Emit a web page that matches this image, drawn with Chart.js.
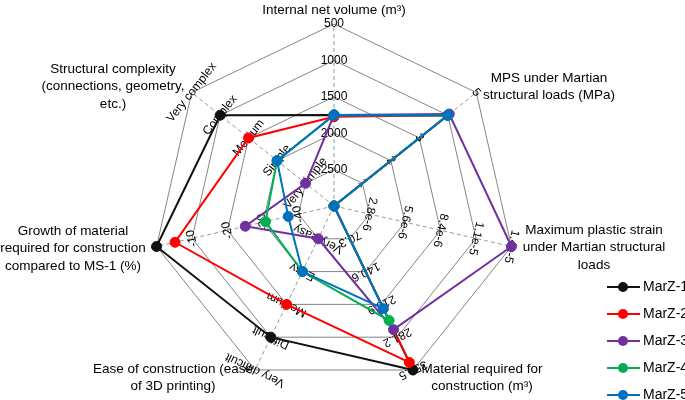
<!DOCTYPE html>
<html>
<head>
<meta charset="utf-8">
<script src="https://cdn.jsdelivr.net/npm/chart.js@4"></script>
<style>
  body { margin: 0; background: #fff; }
</style>
</head>
<body>
<canvas id="radar" width="685" height="400"></canvas>
<script>
// axis titles, clockwise from the top
const axisTitles = [
    ["Internal net volume (m³)"],
    ["MPS under Martian", "structural loads (MPa)"],
    ["Maximum plastic strain", "under Martian structural", "loads"],
    ["Material required for", "construction (m³)"],
    ["Ease of construction (ease", "of 3D printing)"],
    ["Growth of material", "required for construction", "compared to MS-1 (%)"],
    ["Structural complexity", "(connections, geometry,", "etc.)"]
];
// where each title block is centred
const titleX = [334, 549, 594, 482, 173, 73, 113];
const titleY = [10, 78, 230, 369, 369, 231, 69];

// tick labels of each axis, ring 1 to ring 5
const volumeTicks = ["2500", "2000", "1500", "1000", "500"];
const mpsTicks = ["1", "2", "3", "4", "5"];
const strainTicks = ["2.8e-6", "5.6e-6", "8.4e-6", "1.1e-5", "1.4e-5"];
const materialTicks = ["70.3", "140.6", "210.9", "281.2", "351.5"];
const easeTicks = ["Very easy", "Easy", "Medium", "Difficult", "Very difficult"];
const growthTicks = ["-40", "-30", "-20", "-10", "0"];
const complexityTicks = ["Very simple", "Simple", "Medium", "Complex", "Very complex"];
const axisTicks = [volumeTicks, mpsTicks, strainTicks, materialTicks, easeTicks, growthTicks, complexityTicks];

// position of each design on every axis, in ring units (0 = centre, 5 = outer ring)
const seriesNames = ["MarZ-1", "MarZ-2", "MarZ-3", "MarZ-4", "MarZ-5"];
const marz1 = [2.5, 4, 0, 5, 4, 5, 4];
const marz2 = [2.45, 4, 0, 4.77, 3, 4.48, 3];
const marz3 = [2.5, 4.05, 5, 3.77, 1, 2.5, 1];
const marz4 = [2.5, 4, 0, 3.49, 2, 1.93, 2];
const marz5 = [2.5, 4, 0, 3.13, 2, 1.29, 2];
const seriesColors = ["#111111", "#ff0000", "#7030a0", "#00b050", "#0070c0"];

const allSeries = [marz1, marz2, marz3, marz4, marz5];

const axisText = {
    id: "axisText",
    beforeDatasetsDraw(chart) {
        const r = chart.scales.r;
        const ctx = chart.ctx;
        ctx.save();
        ctx.font = "12px 'Liberation Sans'";
        ctx.fillStyle = "#000";
        ctx.textAlign = "center";
        ctx.textBaseline = "middle";
        axisTicks.forEach((ticks, i) => {
            const angle = r.getIndexAngle(i);
            ticks.forEach((t, k) => {
                const p = r.getPointPosition(i, r.getDistanceFromCenterForValue(k + 1));
                ctx.save();
                ctx.translate(p.x, p.y);
                ctx.rotate(angle);
                ctx.fillText(t, 0, 0);
                ctx.restore();
            });
        });
        ctx.restore();
    },
    afterDraw(chart) {
        const ctx = chart.ctx;
        ctx.save();
        ctx.fillStyle = "#000";
        ctx.font = "13.5px 'Liberation Sans'";
        ctx.textAlign = "center";
        ctx.textBaseline = "middle";
        axisTitles.forEach((lines, i) => {
            lines.forEach((line, j) => {
                ctx.fillText(line, titleX[i], titleY[i] + j * 17.5);
            });
        });
        // legend
        ctx.font = "14px 'Liberation Sans'";
        ctx.textAlign = "left";
        seriesNames.forEach((name, i) => {
            const y = 287 + i * 27;
            ctx.strokeStyle = seriesColors[i];
            ctx.lineWidth = 2;
            ctx.beginPath();
            ctx.moveTo(607, y);
            ctx.lineTo(640, y);
            ctx.stroke();
            ctx.fillStyle = seriesColors[i];
            ctx.beginPath();
            ctx.arc(623, y, 5, 0, Math.PI * 2);
            ctx.fill();
            ctx.fillStyle = "#000";
            ctx.fillText(name, 643, y);
        });
        ctx.restore();
    }
};

new Chart(document.getElementById("radar"), {
    type: "radar",
    data: {
        labels: axisTitles.map(l => l.join(" ")),
        datasets: allSeries.map((vals, i) => ({
            label: seriesNames[i],
            data: vals,
            borderColor: seriesColors[i],
            backgroundColor: seriesColors[i],
            pointBackgroundColor: seriesColors[i],
            pointBorderColor: seriesColors[i],
            fill: false,
            order: 4 - i
        }))
    },
    options: {
        responsive: false,
        animation: false,
        layout: { padding: { left: 152, right: 169, top: 24, bottom: 12 } },
        plugins: {
            legend: { display: false },
            tooltip: { enabled: false }
        },
        elements: {
            line: { borderWidth: 2, tension: 0 },
            point: { radius: 5, borderWidth: 1, hoverRadius: 5 }
        },
        scales: {
            r: {
                min: 0,
                max: 5,
                ticks: { stepSize: 1, display: false },
                grid: { color: "#858585", lineWidth: 1 },
                angleLines: { color: "#999999", borderDash: [4, 3] },
                pointLabels: { display: false }
            }
        }
    },
    plugins: [axisText]
});
</script>
</body>
</html>
